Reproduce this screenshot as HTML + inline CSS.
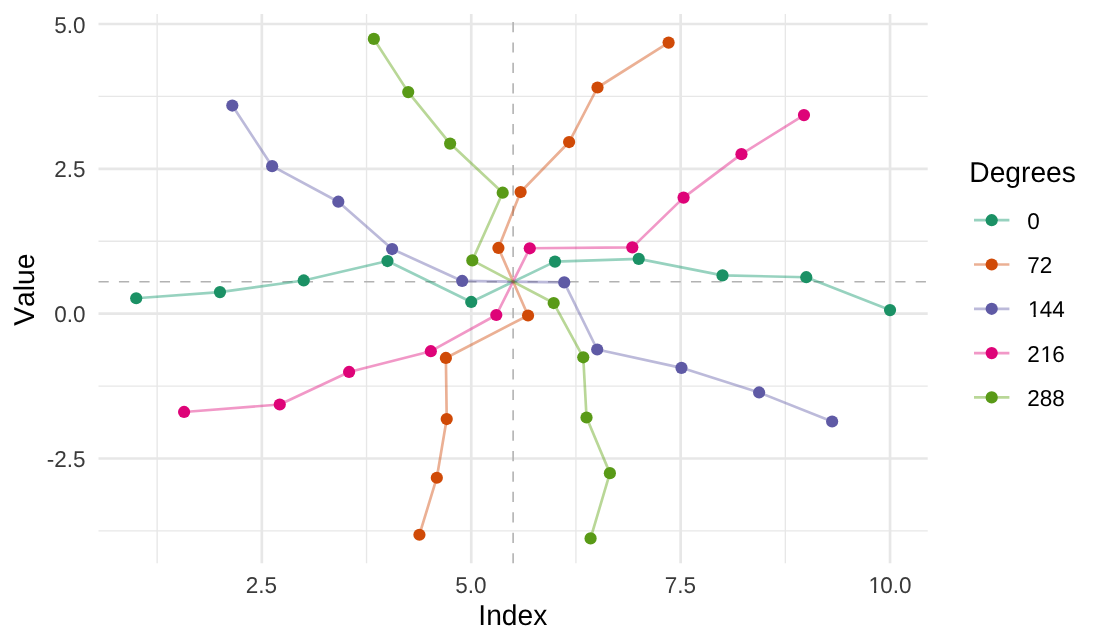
<!DOCTYPE html>
<html><head><meta charset="utf-8"><title>Plot</title>
<style>html,body{margin:0;padding:0;background:#fff;}body{width:1104px;height:644px;overflow:hidden;}svg{display:block;will-change:transform;}text{text-rendering:geometricPrecision;font-kerning:none;}</style>
</head><body>
<svg width="1104" height="644" viewBox="0 0 1104 644">
<rect width="1104" height="644" fill="#FFFFFF"/>
<defs><clipPath id="one" clipPathUnits="userSpaceOnUse"><rect x="-22.50" y="-45.00" width="67.50" height="42.32"/><rect x="5.51" y="-2.75" width="2.29" height="22.50"/></clipPath></defs>
<g stroke="#E7E7E7" fill="none"><line x1="98.51" y1="530.87" x2="927.72" y2="530.87" stroke-width="1.33"/><line x1="98.51" y1="386.06" x2="927.72" y2="386.06" stroke-width="1.33"/><line x1="98.51" y1="241.25" x2="927.72" y2="241.25" stroke-width="1.33"/><line x1="98.51" y1="96.44" x2="927.72" y2="96.44" stroke-width="1.33"/><line x1="157.14" y1="13.95" x2="157.14" y2="563.35" stroke-width="1.33"/><line x1="366.54" y1="13.95" x2="366.54" y2="563.35" stroke-width="1.33"/><line x1="575.93" y1="13.95" x2="575.93" y2="563.35" stroke-width="1.33"/><line x1="785.33" y1="13.95" x2="785.33" y2="563.35" stroke-width="1.33"/><line x1="98.51" y1="458.47" x2="927.72" y2="458.47" stroke-width="2.67"/><line x1="98.51" y1="313.65" x2="927.72" y2="313.65" stroke-width="2.67"/><line x1="98.51" y1="168.84" x2="927.72" y2="168.84" stroke-width="2.67"/><line x1="98.51" y1="24.03" x2="927.72" y2="24.03" stroke-width="2.67"/><line x1="261.84" y1="13.95" x2="261.84" y2="563.35" stroke-width="2.67"/><line x1="471.24" y1="13.95" x2="471.24" y2="563.35" stroke-width="2.67"/><line x1="680.63" y1="13.95" x2="680.63" y2="563.35" stroke-width="2.67"/><line x1="890.03" y1="13.95" x2="890.03" y2="563.35" stroke-width="2.67"/></g>
<g stroke="#B2B2B2" stroke-width="1.6" stroke-dasharray="10.215 10.215" fill="none"><line x1="98.51" y1="281.71" x2="927.72" y2="281.71"/><line x1="513.12" y1="563.35" x2="513.12" y2="13.95"/></g>
<polyline points="136.20,298.27 219.96,292.10 303.72,280.47 387.48,261.05 471.24,301.97 554.99,261.61 638.75,258.93 722.51,275.38 806.27,277.21 890.03,310.07" fill="none" stroke="#079467" stroke-opacity="0.42" stroke-width="2.67" stroke-linejoin="round" stroke-linecap="butt"/>
<polyline points="419.43,534.73 436.82,477.73 446.71,419.05 445.88,357.96 528.04,315.51 498.42,247.95 520.62,192.04 569.12,142.03 597.52,87.50 668.60,42.57" fill="none" stroke="#CF4300" stroke-opacity="0.42" stroke-width="2.67" stroke-linejoin="round" stroke-linecap="butt"/>
<polyline points="832.13,421.52 759.11,392.47 681.47,367.83 597.20,349.49 564.22,282.34 462.16,280.94 392.12,249.06 338.33,201.71 272.13,166.18 232.30,105.54" fill="none" stroke="#5F5BA7" stroke-opacity="0.42" stroke-width="2.67" stroke-linejoin="round" stroke-linecap="butt"/>
<polyline points="803.96,115.09 741.45,154.13 683.57,197.59 632.32,247.35 529.77,248.29 496.31,314.99 430.83,351.20 349.09,371.95 279.77,404.51 184.08,411.97" fill="none" stroke="#DE0A7A" stroke-opacity="0.42" stroke-width="2.67" stroke-linejoin="round" stroke-linecap="butt"/>
<polyline points="373.86,38.92 408.24,92.10 450.11,143.60 502.70,192.69 472.31,260.42 553.69,303.04 583.26,357.30 586.53,417.48 609.89,473.13 590.58,538.38" fill="none" stroke="#58A007" stroke-opacity="0.42" stroke-width="2.67" stroke-linejoin="round" stroke-linecap="butt"/>
<g fill="#1B9165"><circle cx="136.20" cy="298.27" r="6.1"/><circle cx="219.96" cy="292.10" r="6.1"/><circle cx="303.72" cy="280.47" r="6.1"/><circle cx="387.48" cy="261.05" r="6.1"/><circle cx="471.24" cy="301.97" r="6.1"/><circle cx="554.99" cy="261.61" r="6.1"/><circle cx="638.75" cy="258.93" r="6.1"/><circle cx="722.51" cy="275.38" r="6.1"/><circle cx="806.27" cy="277.21" r="6.1"/><circle cx="890.03" cy="310.07" r="6.1"/></g>
<g fill="#D04A07"><circle cx="419.43" cy="534.73" r="6.1"/><circle cx="436.82" cy="477.73" r="6.1"/><circle cx="446.71" cy="419.05" r="6.1"/><circle cx="445.88" cy="357.96" r="6.1"/><circle cx="528.04" cy="315.51" r="6.1"/><circle cx="498.42" cy="247.95" r="6.1"/><circle cx="520.62" cy="192.04" r="6.1"/><circle cx="569.12" cy="142.03" r="6.1"/><circle cx="597.52" cy="87.50" r="6.1"/><circle cx="668.60" cy="42.57" r="6.1"/></g>
<g fill="#5F5AA5"><circle cx="832.13" cy="421.52" r="6.1"/><circle cx="759.11" cy="392.47" r="6.1"/><circle cx="681.47" cy="367.83" r="6.1"/><circle cx="597.20" cy="349.49" r="6.1"/><circle cx="564.22" cy="282.34" r="6.1"/><circle cx="462.16" cy="280.94" r="6.1"/><circle cx="392.12" cy="249.06" r="6.1"/><circle cx="338.33" cy="201.71" r="6.1"/><circle cx="272.13" cy="166.18" r="6.1"/><circle cx="232.30" cy="105.54" r="6.1"/></g>
<g fill="#DE0378"><circle cx="803.96" cy="115.09" r="6.1"/><circle cx="741.45" cy="154.13" r="6.1"/><circle cx="683.57" cy="197.59" r="6.1"/><circle cx="632.32" cy="247.35" r="6.1"/><circle cx="529.77" cy="248.29" r="6.1"/><circle cx="496.31" cy="314.99" r="6.1"/><circle cx="430.83" cy="351.20" r="6.1"/><circle cx="349.09" cy="371.95" r="6.1"/><circle cx="279.77" cy="404.51" r="6.1"/><circle cx="184.08" cy="411.97" r="6.1"/></g>
<g fill="#599A17"><circle cx="373.86" cy="38.92" r="6.1"/><circle cx="408.24" cy="92.10" r="6.1"/><circle cx="450.11" cy="143.60" r="6.1"/><circle cx="502.70" cy="192.69" r="6.1"/><circle cx="472.31" cy="260.42" r="6.1"/><circle cx="553.69" cy="303.04" r="6.1"/><circle cx="583.26" cy="357.30" r="6.1"/><circle cx="586.53" cy="417.48" r="6.1"/><circle cx="609.89" cy="473.13" r="6.1"/><circle cx="590.58" cy="538.38" r="6.1"/></g>
<g font-family="'Liberation Sans', Arial, sans-serif" font-size="22.5" fill="#3A3A3A"><text transform="translate(85.50,33.00) scale(1,1.02)" text-anchor="end">5.0</text><text transform="translate(85.50,177.00) scale(1,1.02)" text-anchor="end">2.5</text><text transform="translate(85.50,322.00) scale(1,1.02)" text-anchor="end">0.0</text><text transform="translate(85.50,467.00) scale(1,1.02)" text-anchor="end">-2.5</text><text transform="translate(261.49,593.00) scale(1,1.02)" text-anchor="middle">2.5</text><text transform="translate(470.89,593.00) scale(1,1.02)" text-anchor="middle">5.0</text><text transform="translate(680.28,593.00) scale(1,1.02)" text-anchor="middle">7.5</text><text transform="translate(868.48,593.00) scale(1,1.02)" clip-path="url(#one)">1</text><text transform="translate(880.30,593.00) scale(1,1.02)">0.0</text></g>
<g font-family="'Liberation Sans', Arial, sans-serif" font-size="28.2" fill="#000000"><text transform="translate(512.82,625.00) scale(1,1.02)" text-anchor="middle">Index</text><text transform="translate(33.90,289.65) rotate(-90) scale(1,1.02)" text-anchor="middle">Value</text></g>
<g font-family="'Liberation Sans', Arial, sans-serif" fill="#000000"><text transform="translate(969.30,182.00) scale(1,1.02)" font-size="28.2">Degrees</text><line x1="974.0" y1="220.20" x2="1009.4" y2="220.20" stroke="#97D2BF" stroke-width="2.67"/><circle cx="991.70" cy="220.20" r="6.1" fill="#1B9165"/><text transform="translate(1027.30,229.00) scale(1,1.02)" font-size="22.5">0</text><line x1="974.0" y1="264.50" x2="1009.4" y2="264.50" stroke="#EBB094" stroke-width="2.67"/><circle cx="991.70" cy="264.50" r="6.1" fill="#D04A07"/><text transform="translate(1027.30,273.00) scale(1,1.02)" font-size="22.5">72</text><line x1="974.0" y1="308.80" x2="1009.4" y2="308.80" stroke="#BCBADA" stroke-width="2.67"/><circle cx="991.70" cy="308.80" r="6.1" fill="#5F5AA5"/><text transform="translate(1028.00,317.00) scale(1,1.02)" font-size="22.5" clip-path="url(#one)">1</text><text transform="translate(1039.81,317.00) scale(1,1.02)" font-size="22.5">44</text><line x1="974.0" y1="353.10" x2="1009.4" y2="353.10" stroke="#F198C7" stroke-width="2.67"/><circle cx="991.70" cy="353.10" r="6.1" fill="#DE0378"/><text transform="translate(1027.30,362.00) scale(1,1.02)" font-size="22.5">2</text><text transform="translate(1040.51,362.00) scale(1,1.02)" font-size="22.5" clip-path="url(#one)">1</text><text transform="translate(1052.33,362.00) scale(1,1.02)" font-size="22.5">6</text><line x1="974.0" y1="397.40" x2="1009.4" y2="397.40" stroke="#B9D797" stroke-width="2.67"/><circle cx="991.70" cy="397.40" r="6.1" fill="#599A17"/><text transform="translate(1027.30,406.00) scale(1,1.02)" font-size="22.5">288</text></g>
</svg>
</body></html>
